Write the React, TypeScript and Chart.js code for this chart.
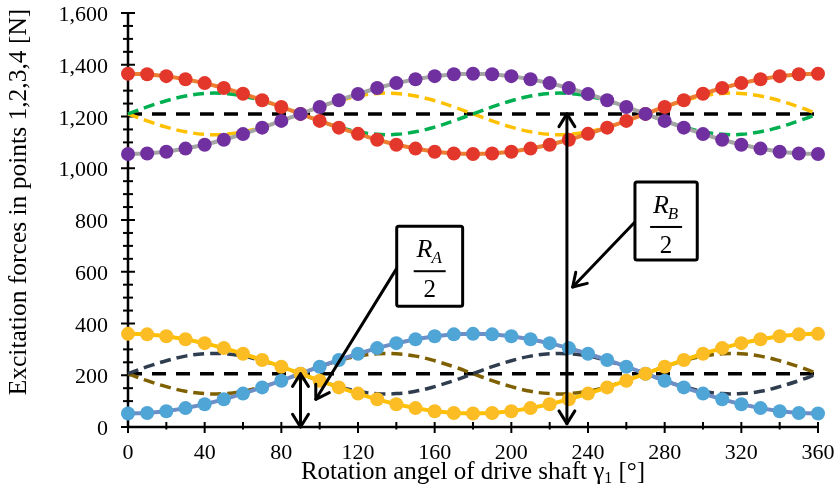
import React, { useEffect, useRef } from 'react';
import { Chart, registerables } from 'chart.js';

Chart.register(...registerables);

// ---- data ----
const angles = [0, 10, 20, 30, 40, 50, 60, 70, 80, 90, 100, 110, 120, 130, 140, 150, 160, 170, 180,
  190, 200, 210, 220, 230, 240, 250, 260, 270, 280, 290, 300, 310, 320, 330, 340, 350, 360];

// upper pair of points (red markers / orange line, purple markers / grey line)
const forceRed = [1365, 1363, 1356, 1344, 1329, 1310, 1288, 1263, 1237, 1210, 1183, 1157, 1133, 1110, 1091, 1076, 1064, 1057, 1055,
  1057, 1064, 1076, 1091, 1110, 1133, 1157, 1183, 1210, 1237, 1263, 1288, 1310, 1329, 1344, 1356, 1363, 1365];
const forcePurple = [1055, 1057, 1064, 1076, 1091, 1110, 1132, 1157, 1183, 1210, 1237, 1263, 1287, 1310, 1329, 1344, 1356, 1363, 1365,
  1363, 1356, 1344, 1329, 1310, 1287, 1263, 1237, 1210, 1183, 1157, 1132, 1110, 1091, 1076, 1064, 1057, 1055];
// lower pair of points (yellow markers, blue markers)
const forceYellow = [360, 358, 351, 339, 324, 305, 283, 259, 233, 206, 179, 153, 129, 107, 88, 73, 61, 54, 52,
  54, 61, 73, 88, 107, 129, 153, 179, 206, 233, 259, 283, 305, 324, 339, 351, 358, 360];
const forceBlue = [52, 54, 61, 73, 88, 107, 129, 153, 179, 206, 233, 259, 283, 305, 324, 339, 351, 358, 360,
  358, 351, 339, 324, 305, 283, 259, 233, 206, 179, 153, 129, 107, 88, 73, 61, 54, 52];
// dashed curves
const upperGreen = [1210, 1237, 1261, 1279, 1289, 1289, 1279, 1261, 1237, 1210, 1183, 1159, 1141, 1131, 1131, 1141, 1159, 1183, 1210,
  1237, 1261, 1279, 1289, 1289, 1279, 1261, 1237, 1210, 1183, 1159, 1141, 1131, 1131, 1141, 1159, 1183, 1210];
const upperGold = [1210, 1183, 1159, 1141, 1131, 1131, 1141, 1159, 1183, 1210, 1237, 1261, 1279, 1289, 1289, 1279, 1261, 1237, 1210,
  1183, 1159, 1141, 1131, 1131, 1141, 1159, 1183, 1210, 1237, 1261, 1279, 1289, 1289, 1279, 1261, 1237, 1210];
const lowerNavy = [206, 233, 256, 274, 283, 283, 274, 256, 233, 206, 179, 156, 138, 129, 129, 138, 156, 179, 206,
  233, 256, 274, 283, 283, 274, 256, 233, 206, 179, 156, 138, 129, 129, 138, 156, 179, 206];
const lowerOlive = [206, 179, 156, 138, 129, 129, 138, 156, 179, 206, 233, 256, 274, 283, 283, 274, 256, 233, 206,
  179, 156, 138, 129, 129, 138, 156, 179, 206, 233, 256, 274, 283, 283, 274, 256, 233, 206];
const meanAngles = [0, 360];
const upperMean = [1210, 1210];
const lowerMean = [206, 206];

const xTicks = [0, 40, 80, 120, 160, 200, 240, 280, 320, 360];
const yTicks = [0, 200, 400, 600, 800, 1000, 1200, 1400, 1600];
const xMinorStep = 20;
const yMinorStep = 50;

const xTitle = 'Rotation angel of drive shaft γ';
const xTitleSub = '1';
const xTitleEnd = ' [°]';
const yTitle = 'Excitation forces in points 1,2,3,4 [N]';

// annotation anchors in data units
const raArrow = { x: 90, y1: 206, y2: 0 };
const raBox = { x1: 140.2, x2: 174.6, y1: 776, y2: 467, sub: 'A' };
const raPointer = { x1: 140.2, y1: 613, x2: 98, y2: 107 };
const rbArrow = { x: 229, y1: 1210, y2: 13 };
const rbBox = { x1: 264.5, x2: 297, y1: 947, y2: 645, sub: 'B' };
const rbPointer = { x1: 264.5, y1: 792, x2: 232, y2: 541 };

const FONT = "'Liberation Serif', 'Times New Roman', serif";

const toXY = (ys: number[], xs: number[] = angles) => xs.map((x, i) => ({ x, y: ys[i] }));

function arrowHead(ctx: CanvasRenderingContext2D, tx: number, ty: number, fx: number, fy: number) {
  const ang = Math.atan2(ty - fy, tx - fx);
  const len = 15;
  const spread = (32 * Math.PI) / 180;
  ctx.beginPath();
  ctx.moveTo(tx - len * Math.cos(ang - spread), ty - len * Math.sin(ang - spread));
  ctx.lineTo(tx, ty);
  ctx.lineTo(tx - len * Math.cos(ang + spread), ty - len * Math.sin(ang + spread));
  ctx.stroke();
}

const frameAndLabels = {
  id: 'frameAndLabels',
  beforeDatasetsDraw(chart: any) {
    const { ctx, chartArea, scales } = chart;
    const xs = scales.x, ys = scales.y;
    const L = chartArea.left, B = chartArea.bottom, R = chartArea.right;
    ctx.save();
    ctx.strokeStyle = '#000';
    ctx.lineWidth = 2.5;
    ctx.beginPath();
    ctx.moveTo(L, ys.getPixelForValue(1600) - 1);
    ctx.lineTo(L, B + 1);
    ctx.moveTo(L - 1, B);
    ctx.lineTo(R + 1, B);
    ctx.stroke();
    ctx.lineWidth = 2;
    for (let v = 0; v <= 1600; v += yMinorStep) {
      const y = ys.getPixelForValue(v);
      const major = v % 200 === 0;
      ctx.beginPath();
      ctx.moveTo(L - (major ? 7 : 5), y);
      ctx.lineTo(L + (major ? 7 : 5), y);
      ctx.stroke();
    }
    for (let v = 0; v <= 360; v += xMinorStep) {
      const x = xs.getPixelForValue(v);
      const major = v % 40 === 0;
      ctx.beginPath();
      ctx.moveTo(x, B - 5);
      ctx.lineTo(x, B + (major ? 6 : 2.5));
      ctx.stroke();
    }
    ctx.fillStyle = '#000';
    ctx.font = `22px ${FONT}`;
    ctx.textAlign = 'right';
    ctx.textBaseline = 'alphabetic';
    yTicks.forEach((v) => {
      ctx.fillText(v.toLocaleString('en-US'), 108, ys.getPixelForValue(v) + 8);
    });
    ctx.textAlign = 'center';
    xTicks.forEach((v) => {
      ctx.fillText(String(v), xs.getPixelForValue(v), 459);
    });
    // x title
    const big = `25px ${FONT}`;
    const small = `16px ${FONT}`;
    ctx.font = big;
    const w1 = ctx.measureText(xTitle).width;
    const w3 = ctx.measureText(xTitleEnd).width;
    ctx.font = small;
    const w2 = ctx.measureText(xTitleSub).width;
    const total = w1 + w2 + w3;
    let sx = (L + R) / 2 - total / 2;
    ctx.textAlign = 'left';
    ctx.font = big;
    ctx.fillText(xTitle, sx, 479);
    sx += w1;
    ctx.font = small;
    ctx.fillText(xTitleSub, sx, 483);
    sx += w2;
    ctx.font = big;
    ctx.fillText(xTitleEnd, sx, 479);
    // y title
    ctx.save();
    ctx.translate(26, 202);
    ctx.rotate(-Math.PI / 2);
    ctx.textAlign = 'center';
    ctx.font = `25.5px ${FONT}`;
    ctx.fillText(yTitle, 0, 0);
    ctx.restore();
    ctx.restore();
  },
  afterDatasetsDraw(chart: any) {
    const { ctx, scales } = chart;
    const px = (v: number) => scales.x.getPixelForValue(v);
    const py = (v: number) => scales.y.getPixelForValue(v);
    ctx.save();
    ctx.strokeStyle = '#000';
    ctx.fillStyle = '#000';
    ctx.lineWidth = 3;
    ctx.lineCap = 'round';
    ctx.lineJoin = 'round';
    // double arrows
    [raArrow, rbArrow].forEach((a) => {
      const x = px(a.x), y1 = py(a.y1), y2 = py(a.y2);
      ctx.beginPath();
      ctx.moveTo(x, y1);
      ctx.lineTo(x, y2);
      ctx.stroke();
      arrowHead(ctx, x, y1, x, y2);
      arrowHead(ctx, x, y2, x, y1);
    });
    // pointers
    [raPointer, rbPointer].forEach((p) => {
      const x1 = px(p.x1), y1 = py(p.y1), x2 = px(p.x2), y2 = py(p.y2);
      ctx.beginPath();
      ctx.moveTo(x1, y1);
      ctx.lineTo(x2, y2);
      ctx.stroke();
      arrowHead(ctx, x2, y2, x1, y1);
    });
    // boxes
    [raBox, rbBox].forEach((b) => {
      const x1 = px(b.x1), x2 = px(b.x2), y1 = py(b.y1), y2 = py(b.y2);
      ctx.fillStyle = '#fff';
      ctx.beginPath();
      ctx.roundRect(x1, y1, x2 - x1, y2 - y1, 2);
      ctx.fill();
      ctx.lineWidth = 3;
      ctx.stroke();
      ctx.fillStyle = '#000';
      const cx = (x1 + x2) / 2;
      const barY = y1 + 45;
      ctx.fillRect(cx - 16, barY - 1, 32, 2);
      ctx.font = `italic 26px ${FONT}`;
      const wR = ctx.measureText('R').width;
      ctx.font = `italic 17px ${FONT}`;
      const wS = ctx.measureText(b.sub).width;
      const start = cx - (wR + wS) / 2;
      ctx.textAlign = 'left';
      ctx.textBaseline = 'alphabetic';
      ctx.font = `italic 26px ${FONT}`;
      ctx.fillText('R', start, barY - 14);
      ctx.font = `italic 17px ${FONT}`;
      ctx.fillText(b.sub, start + wR - 1, barY - 8);
      ctx.font = `25px ${FONT}`;
      ctx.textAlign = 'center';
      ctx.fillText('2', cx, barY + 26);
    });
    ctx.restore();
  },
};

export default function App() {
  const ref = useRef<HTMLCanvasElement | null>(null);
  useEffect(() => {
    document.body.style.margin = '0';
    if (!ref.current) return;
    const marker = (ys: number[], line: string, point: string, order: number) => ({
      data: toXY(ys),
      borderColor: line,
      borderWidth: 4,
      pointRadius: 7,
      pointBackgroundColor: point,
      pointBorderColor: point,
      pointBorderWidth: 0,
      tension: 0,
      order,
      clip: false as const,
    });
    const dashed = (ys: number[], color: string, order: number) => ({
      data: toXY(ys),
      borderColor: color,
      borderWidth: 3.5,
      borderDash: [11, 6],
      pointRadius: 0,
      tension: 0.4,
      order,
      clip: false as const,
    });
    const mean = (ys: number[]) => ({
      data: toXY(ys, meanAngles),
      borderColor: '#000',
      borderWidth: 3.5,
      borderDash: [14, 10],
      pointRadius: 0,
      order: 9,
      clip: false as const,
    });
    const chart = new Chart(ref.current, {
      type: 'line',
      data: {
        datasets: [
          marker(forcePurple, '#A5A5A5', '#7030A0', 1),
          marker(forceRed, '#ED7D31', '#E2372A', 2),
          marker(forceYellow, '#FFC000', '#FBBC24', 1),
          marker(forceBlue, '#6C8FC8', '#4FA5D6', 2),
          dashed(upperGreen, '#00B050', 5),
          dashed(upperGold, '#FFC000', 6),
          dashed(lowerNavy, '#2F3D4E', 5),
          dashed(lowerOlive, '#7F6000', 6),
          mean(upperMean),
          mean(lowerMean),
        ] as any,
      },
      options: {
        animation: false,
        responsive: false,
        devicePixelRatio: 1,
        events: [],
        layout: { padding: { top: 13, right: 19, left: 0, bottom: 0 } },
        plugins: { legend: { display: false }, tooltip: { enabled: false }, title: { display: false } },
        scales: {
          x: {
            type: 'linear', min: 0, max: 360,
            ticks: { display: false },
            grid: { display: false, drawTicks: false },
            border: { display: false },
            afterFit: (s: any) => { s.height = 62; },
          },
          y: {
            type: 'linear', min: 0, max: 1600,
            ticks: { display: false },
            grid: { display: false, drawTicks: false },
            border: { display: false },
            afterFit: (s: any) => { s.width = 128; },
          },
        },
      } as any,
      plugins: [frameAndLabels],
    });
    return () => chart.destroy();
  }, []);
  return (
    <div style={{ position: 'absolute', left: 0, top: 0, width: 837, height: 489, background: '#fff' }}>
      <canvas ref={ref} width={837} height={489} style={{ width: 837, height: 489 }} />
    </div>
  );
}
